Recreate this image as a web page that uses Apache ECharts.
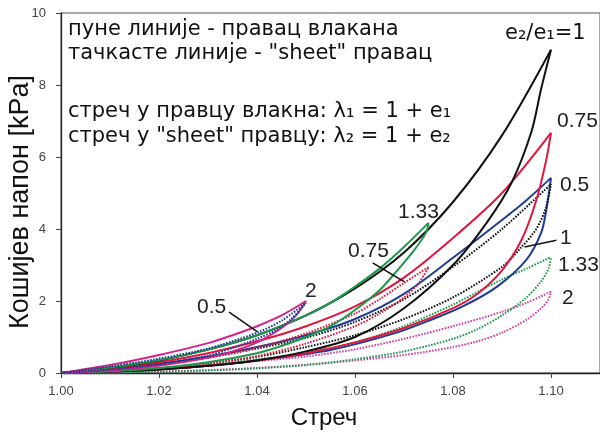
<!DOCTYPE html>
<html>
<head>
<meta charset="utf-8">
<script src="https://cdn.jsdelivr.net/npm/echarts@6/dist/echarts.min.js"></script>
<style>
  html, body { margin: 0; padding: 0; background: #fff; }
  #chart { width: 600px; height: 436px; }
</style>
</head>
<body>
<div id="chart"></div>
<script>
// Cauchy stress [kPa] vs stretch for biaxial loading/unloading cycles.
// Each loop: loading branch (up) and unloading branch (down), as [stretch, stress].

// e2/e1 = 1
const fiberRatio1Up = [[1.00,0],[1.01,0.15],[1.02,0.35],[1.03,0.65],[1.04,1.05],[1.05,1.6],[1.06,2.35],[1.07,3.35],[1.08,4.75],[1.09,6.6],[1.10,8.98]];
const fiberRatio1Down = [[1.00,0],[1.01,0.04],[1.02,0.1],[1.03,0.2],[1.04,0.35],[1.05,0.6],[1.06,1.0],[1.07,1.8],[1.08,3.0],[1.087,4.2],[1.092,5.3],[1.096,6.7],[1.098,7.9],[1.10,8.98]];
const sheetRatio1Up = [[1.00,0],[1.01,0.1],[1.02,0.24],[1.03,0.43],[1.04,0.68],[1.05,0.98],[1.06,1.42],[1.07,2.05],[1.08,2.95],[1.09,4.0],[1.10,5.25]];
const sheetRatio1Down = [[1.00,0],[1.01,0.05],[1.02,0.13],[1.03,0.27],[1.04,0.45],[1.05,0.72],[1.06,1.05],[1.07,1.5],[1.08,2.1],[1.09,2.95],[1.094,3.5],[1.097,4.0],[1.099,4.6],[1.10,5.25]];

// e2/e1 = 0.75
const fiberRatio075Up = [[1.00,0],[1.01,0.13],[1.02,0.3],[1.03,0.55],[1.04,0.88],[1.05,1.3],[1.06,1.85],[1.07,2.65],[1.08,3.75],[1.09,5.0],[1.10,6.67]];
const fiberRatio075Down = [[1.00,0],[1.01,0.04],[1.02,0.1],[1.03,0.2],[1.04,0.35],[1.05,0.55],[1.06,0.85],[1.07,1.25],[1.08,1.8],[1.085,2.2],[1.09,2.85],[1.094,3.7],[1.097,4.8],[1.099,5.9],[1.10,6.67]];
const sheetRatio075Up = [[1.00,0],[1.01,0.1],[1.02,0.24],[1.03,0.43],[1.04,0.7],[1.05,1.1],[1.06,1.65],[1.065,2.05],[1.07,2.5],[1.075,2.94]];
const sheetRatio075Down = [[1.00,0],[1.01,0.05],[1.02,0.13],[1.03,0.27],[1.04,0.47],[1.05,0.82],[1.06,1.3],[1.065,1.65],[1.07,2.1],[1.073,2.5],[1.075,2.94]];

// e2/e1 = 0.5
const fiberRatio05Up = [[1.00,0],[1.01,0.11],[1.02,0.26],[1.03,0.46],[1.04,0.72],[1.05,1.05],[1.06,1.5],[1.07,2.2],[1.08,3.2],[1.09,4.25],[1.095,4.8],[1.10,5.42]];
const fiberRatio05Down = [[1.00,0],[1.01,0.04],[1.02,0.1],[1.03,0.2],[1.04,0.35],[1.055,0.64],[1.068,1.1],[1.075,1.45],[1.082,1.85],[1.089,2.4],[1.095,3.15],[1.098,3.9],[1.099,4.5],[1.10,5.42]];
const sheetRatio05Up = [[1.00,0],[1.01,0.18],[1.02,0.4],[1.03,0.68],[1.04,1.12],[1.045,1.45],[1.05,1.95]];
const sheetRatio05Down = [[1.00,0],[1.01,0.09],[1.02,0.24],[1.03,0.48],[1.035,0.7],[1.04,0.95],[1.044,1.2],[1.047,1.5],[1.05,1.95]];

// e2/e1 = 1.33
const fiberRatio133Up = [[1.00,0],[1.01,0.15],[1.02,0.36],[1.03,0.65],[1.04,1.05],[1.05,1.6],[1.055,1.95],[1.06,2.4],[1.065,2.9],[1.07,3.5],[1.075,4.17]];
const fiberRatio133Down = [[1.00,0],[1.01,0.05],[1.02,0.14],[1.03,0.3],[1.04,0.55],[1.045,0.75],[1.05,1.0],[1.055,1.3],[1.06,1.75],[1.065,2.3],[1.068,2.75],[1.072,3.4],[1.0745,3.9],[1.075,4.17]];
const sheetRatio133Up = [[1.00,0],[1.01,0.06],[1.02,0.13],[1.03,0.23],[1.04,0.38],[1.05,0.55],[1.06,0.85],[1.07,1.3],[1.08,1.9],[1.09,2.6],[1.095,2.9],[1.10,3.22]];
const sheetRatio133Down = [[1.00,0],[1.01,0.012],[1.02,0.035],[1.03,0.07],[1.04,0.13],[1.05,0.22],[1.06,0.38],[1.07,0.6],[1.08,0.95],[1.085,1.22],[1.09,1.6],[1.095,2.1],[1.098,2.55],[1.0995,2.9],[1.10,3.22]];

// e2/e1 = 2
const fiberRatio2Up = [[1.00,0],[1.01,0.22],[1.02,0.5],[1.03,0.83],[1.035,1.05],[1.04,1.3],[1.045,1.6],[1.05,2.0]];
const fiberRatio2Down = [[1.00,0],[1.01,0.07],[1.02,0.2],[1.03,0.42],[1.035,0.6],[1.04,0.85],[1.045,1.25],[1.048,1.6],[1.05,2.0]];
const sheetRatio2Up = [[1.00,0],[1.01,0.06],[1.02,0.13],[1.03,0.22],[1.04,0.33],[1.05,0.46],[1.06,0.66],[1.07,0.95],[1.08,1.3],[1.09,1.7],[1.095,1.95],[1.10,2.26]];
const sheetRatio2Down = [[1.00,0],[1.01,0.015],[1.02,0.04],[1.03,0.08],[1.04,0.14],[1.05,0.23],[1.06,0.35],[1.07,0.5],[1.08,0.72],[1.085,0.88],[1.09,1.12],[1.095,1.48],[1.098,1.8],[1.0995,2.05],[1.10,2.26]];

// Leader lines from labels to curves
const leader05 = [[1.0343,1.69],[1.0401,1.14]];
const leader075 = [[1.0636,3.06],[1.0701,2.53]];
const leader1 = [[1.0946,3.5],[1.1011,3.69]];

const xTicks = { min: 1.00, max: 1.11, interval: 0.02 };
const yTicks = { min: 0, max: 10, interval: 2 };

const colors = {
  black: '#111111',
  red: '#e0163c',
  blue: '#1d3c95',
  green: '#1b9a4b',
  magenta: '#d4248c',
  magentaDot: '#d83aa8'
};

function solid(data, color) {
  return { type: 'line', data, showSymbol: false, smooth: 0.3,
    lineStyle: { color, width: 2 }, silent: true, animation: false };
}
function dotted(data, color) {
  return { type: 'line', data, showSymbol: false, smooth: 0.3,
    lineStyle: { color, width: 2, type: [1.6, 1.4] }, silent: true, animation: false };
}
function leader(data) {
  return { type: 'line', data, showSymbol: false,
    lineStyle: { color: '#111', width: 1.6 }, silent: true, animation: false, z: 5 };
}

const series = [
  dotted(sheetRatio2Up, colors.magentaDot), dotted(sheetRatio2Down, colors.magentaDot),
  dotted(sheetRatio133Up, colors.green), dotted(sheetRatio133Down, colors.green),
  solid(fiberRatio05Up, colors.blue), solid(fiberRatio05Down, colors.blue),
  dotted(sheetRatio1Up, colors.black), dotted(sheetRatio1Down, colors.black),
  solid(fiberRatio075Up, colors.red), solid(fiberRatio075Down, colors.red),
  dotted(sheetRatio075Up, colors.red), dotted(sheetRatio075Down, colors.red),
  solid(fiberRatio1Up, colors.black), solid(fiberRatio1Down, colors.black),
  solid(fiberRatio133Up, colors.green), solid(fiberRatio133Down, colors.green),
  solid(fiberRatio2Up, colors.magenta), solid(fiberRatio2Down, colors.magenta),
  dotted(sheetRatio05Up, colors.blue), dotted(sheetRatio05Down, colors.blue),
  leader(leader05), leader(leader075), leader(leader1)
];

const textFont = '"DejaVu Sans", Verdana, sans-serif';
const numFont = '"Liberation Sans", Arial, sans-serif';

function note(text, x, y) {
  return { type: 'text', x, y, z: 10,
    style: { text, fontSize: 21, fontFamily: textFont, fill: '#111', align: 'left', verticalAlign: 'middle' } };
}
function num(text, x, y) {
  return { type: 'text', x, y, z: 10,
    style: { text, fontSize: 21, fontFamily: numFont, fill: '#222', align: 'left', verticalAlign: 'middle' } };
}

const chart = echarts.init(document.getElementById('chart'), null, { renderer: 'canvas' });
chart.setOption({
  animation: false,
  backgroundColor: '#fff',
  grid: { left: 61, right: 0, top: 13, bottom: 63, show: true, borderColor: '#555', borderWidth: 1,
    containLabel: false, outerBoundsMode: 'none' },
  xAxis: {
    type: 'value', min: xTicks.min, max: xTicks.max, interval: xTicks.interval,
    name: 'Стреч', nameLocation: 'middle', nameGap: 33, nameMoveOverlap: false,
    nameTextStyle: { fontSize: 24, color: '#111', fontFamily: numFont, padding: [0, 13, 0, 0] },
    axisLine: { show: true, lineStyle: { color: '#222', width: 1.3 } },
    axisTick: { show: true, length: 5, lineStyle: { color: '#444' } },
    axisLabel: { fontSize: 13, color: '#444', margin: 12, fontFamily: numFont, showMaxLabel: false,
      formatter: v => v.toFixed(2) },
    splitLine: { show: false }
  },
  yAxis: {
    type: 'value', min: yTicks.min, max: yTicks.max, interval: yTicks.interval,
    name: 'Кошијев напон [kPa]', nameLocation: 'middle', nameGap: 27, nameMoveOverlap: false,
    nameTextStyle: { fontSize: 27, color: '#111', fontFamily: numFont, padding: [0, 18, 0, 0] },
    axisLine: { show: true, lineStyle: { color: '#222', width: 1.3 } },
    axisTick: { show: true, length: 5, lineStyle: { color: '#444' } },
    axisLabel: { fontSize: 13, color: '#444', margin: 15, fontFamily: numFont },
    splitLine: { show: false }
  },
  series,
  graphic: [
    note('пуне линије - правац влакана', 68, 29.5),
    note('тачкасте линије - "sheet" правац', 68, 54),
    note('стреч у правцу влакна: λ₁ = 1 + e₁', 68, 111.5),
    note('стреч у "sheet" правцу: λ₂ = 1 + e₂', 68, 136.5),
    note('e₂/e₁=1', 505, 34),
    num('0.75', 557, 121),
    num('0.5', 560, 185),
    num('1', 560, 238),
    num('1.33', 558, 265),
    num('2', 562, 298),
    num('1.33', 398, 212),
    num('0.75', 348, 251),
    num('2', 305, 291),
    num('0.5', 197, 307)
  ]
});
</script>
</body>
</html>
